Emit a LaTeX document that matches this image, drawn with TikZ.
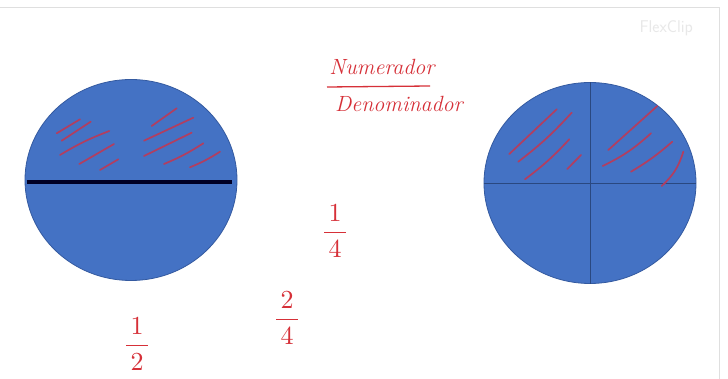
\documentclass[tikz,border=0pt]{standalone}
\usepackage{xcolor}
\usepackage{tikz}
\usetikzlibrary{shapes.geometric}
\definecolor{discblue}{RGB}{68, 114, 196}
\definecolor{discedge}{RGB}{52, 90, 160}
\definecolor{inkred}{RGB}{214, 48, 56}
\definecolor{hatchred}{RGB}{178, 62, 96}
\newcommand{\handfrac}[2]{\scalebox{2.6}{$\displaystyle\frac{\,#1\,}{\,#2\,}$}}

\begin{document}
\begin{tikzpicture}[x=1pt, y=-1pt,
    disc/.style={ellipse, fill=discblue, draw=discedge, line width=0.8pt,
                 minimum width=212pt, minimum height=201pt, inner sep=0pt},
    hatch/.style={draw=hatchred, line width=1.7pt, line cap=round},
    hand/.style={text=inkred, font=\fontsize{22}{26}\selectfont\itshape, inner sep=0pt},
    frac/.style={text=inkred, inner sep=0pt}
]
    \useasboundingbox[fill=white] (0,0) rectangle (728,379);
    % screen border and watermark
    \draw[gray!25, line width=1pt] (0,8) -- (719,8) -- (719,379);
    \node[text=gray!18, font=\sffamily\fontsize{17}{20}\selectfont, anchor=west] (mark) at (636,28) {FlexClip};

    % left disc, cut in halves
    \node[disc] (half) at (131,180) {};
    \draw[black!85!blue, line width=3.5pt] (half.west) ++(2,2) coordinate (hw) -- (232,182) coordinate (he);

    \draw[hatch] (56.7,133.3) -- (80,119.3);
    \draw[hatch] (61.7,140.7) -- (90.7,121.7);
    \draw[hatch] (60,155) to[bend left=5] (109.3,131);
    \draw[hatch] (79.3,164) -- (114,144);
    \draw[hatch] (100,170) -- (118.3,159.3);
    \draw[hatch] (151.7,126) -- (176.7,108.3);
    \draw[hatch] (144,140.7) -- (193.3,117.7);
    \draw[hatch] (144,156) -- (191.7,132.7);
    \draw[hatch] (164,164) to[bend right=5] (203.3,143.3);
    \draw[hatch] (190,167.3) to[bend right=5] (220,151.7);

    % right disc, cut in quarters
    \node[disc] (quart) at (590,183) {};
    \draw[discedge!80!black, line width=0.8pt] (quart.north) -- (quart.south);
    \draw[discedge!80!black, line width=0.8pt] (quart.west) -- (quart.east);

    \draw[hatch] (509.3,154) -- (556.7,109.3);
    \draw[hatch] (518.3,161.7) to[bend right=5] (571.7,112.7);
    \draw[hatch] (525,179.3) to[bend right=5] (569.3,139.3);
    \draw[hatch] (567.3,169) -- (581,155);
    \draw[hatch] (608.3,150) -- (657.3,106);
    \draw[hatch] (602.7,166) to[bend right=8] (651,133.3);
    \draw[hatch] (631,171.7) to[bend right=5] (672.3,141.7);
    \draw[hatch] (661.7,186) to[bend right=15] (683.3,151.7);

    % handwritten notes
    \node[hand] (num) at (382,67) {Numerador};
    \draw[inkred, line width=1.3pt] (327,87) -- (430,86);
    \node[hand] (den) at (399,104) {Denominador};

    \node[frac] (q1) at (335,231) {\handfrac{1}{4}};
    \node[frac] (q2) at (287,318) {\handfrac{2}{4}};
    \node[frac] (h1) at (137,344) {\handfrac{1}{2}};
\end{tikzpicture}
\end{document}
